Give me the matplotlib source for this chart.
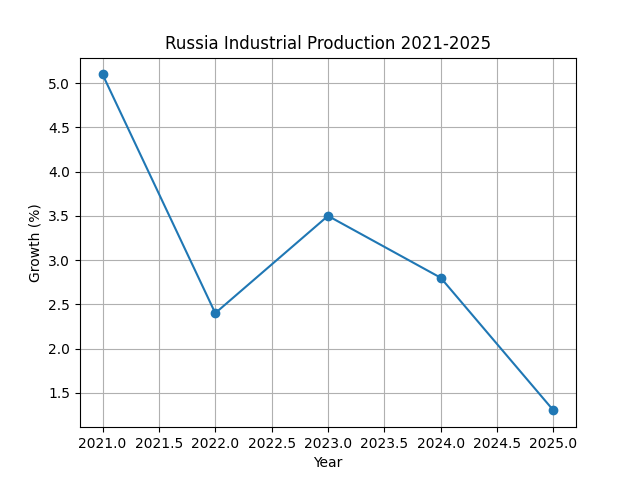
import matplotlib
matplotlib.use("Agg")
import matplotlib.pyplot as plt

# data
years = [2021, 2022, 2023, 2024, 2025]
growth = [5.1, 2.4, 3.5, 2.8, 1.3]

plt.figure(figsize=(6.4, 4.8), dpi=100)
plt.plot(years, growth, marker='o')
plt.title('Russia Industrial Production 2021-2025')
plt.xlabel('Year')
plt.ylabel('Growth (%)')
plt.grid(True)
plt.savefig('out.png')
